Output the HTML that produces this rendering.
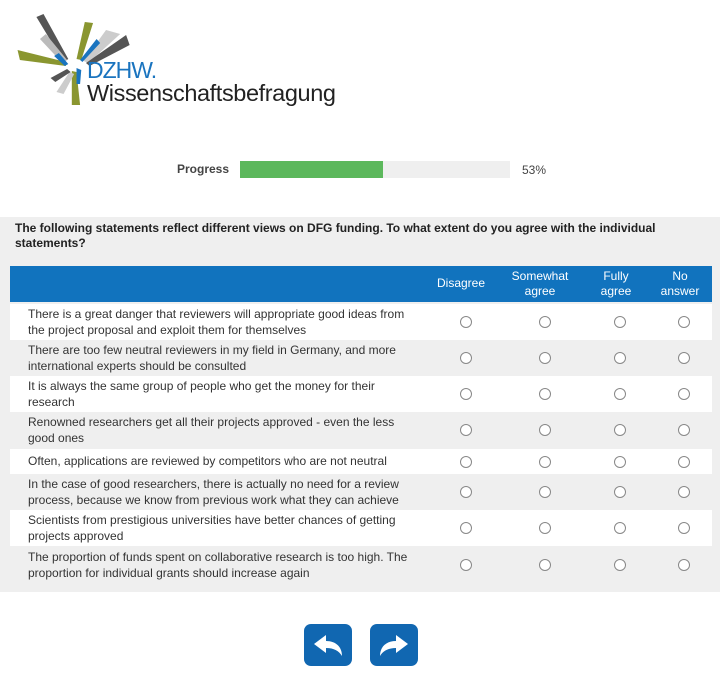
<!DOCTYPE html>
<html><head><style>
body{margin:0;width:722px;height:675px;background:#fff;font-family:"Liberation Sans",Arial,sans-serif;position:relative;overflow:hidden}
.a{position:absolute}
.row{position:absolute;left:10px;width:702px;font-size:12px;color:#333}
.row .t{position:absolute;left:18px;width:390px;line-height:16px}
.r{position:absolute;width:10px;height:10px;border:1px solid #888;border-radius:50%;background:#fff}
.h{position:absolute;color:#fff;font-size:12px;text-align:center;line-height:15px;transform:translateX(-50%)}
.btn{position:absolute;top:624px;width:48px;height:42px;background:#1167b1;border-radius:7px}
</style></head><body>
<svg class="a" style="left:14px;top:12px" width="118" height="96" viewBox="0 0 100 96" preserveAspectRatio="none">
<polygon points="19,5 25,2 46,47 42,50" fill="#555"/>
<polygon points="22,27 27,22 45,48 41,51" fill="#bbb"/>
<polygon points="3,38 5,48 44,54 44,50" fill="#8a9630"/>
<polygon points="34,44 38,41 46,52 43,54" fill="#1a74bf"/>
<polygon points="60,10 67,11 57,48 53,47" fill="#8a9630"/>
<polygon points="78,18 90,22 63,51 59,49" fill="#ccc"/>
<polygon points="95,23 98,33 64,54 61,51" fill="#555"/>
<polygon points="70,27 73,31 58,50 56,48" fill="#1a74bf"/>
<polygon points="49,59 53,60 56,93 49,93" fill="#8a9630"/>
<polygon points="47,60 51,62 42,82 36,80" fill="#ccc"/>
<polygon points="45,57 48,60 35,70 31,66" fill="#555"/>
<polygon points="53,56 57,58 56,72 53,72" fill="#1a74bf"/>
</svg>
<div class="a" style="left:87px;top:57px;font-size:23px;color:#1a74bf;letter-spacing:-1px">DZHW.</div>
<div class="a" style="left:87px;top:80px;font-size:23.5px;color:#222;letter-spacing:-0.4px">Wissenschaftsbefragung</div>

<div class="a" style="left:177px;top:162px;font-size:12px;color:#444;font-weight:bold">Progress</div>
<div class="a" style="left:240px;top:161px;width:270px;height:17px;background:#efefef"></div>
<div class="a" style="left:240px;top:161px;width:143px;height:17px;background:#5cb85c"></div>
<div class="a" style="left:522px;top:163px;font-size:12px;color:#444">53%</div>

<div class="a" style="left:0;top:217px;width:720px;height:375px;background:#efefef"></div>
<div class="a" style="left:15px;top:221px;width:680px;font-size:12px;font-weight:bold;color:#222;line-height:15px">The following statements reflect different views on DFG funding. To what extent do you agree with the individual statements?</div>
<div class="a" style="left:10px;top:266px;width:702px;height:36px;background:#1173be"></div>
<div class="h" style="left:461px;top:276px">Disagree</div>
<div class="h" style="left:540px;top:269px">Somewhat<br>agree</div>
<div class="h" style="left:616px;top:269px">Fully<br>agree</div>
<div class="h" style="left:680px;top:269px">No<br>answer</div>

<div id="rows"></div>
<script>
var R=[[304,36,"There is a great danger that reviewers will appropriate good ideas from the project proposal and exploit them for themselves"],
[340,36,"There are too few neutral reviewers in my field in Germany, and more international experts should be consulted"],
[376,36,"It is always the same group of people who get the money for their research"],
[412,36,"Renowned researchers get all their projects approved - even the less good ones"],
[449,25,"Often, applications are reviewed by competitors who are not neutral"],
[474,36,"In the case of good researchers, there is actually no need for a review process, because we know from previous work what they can achieve"],
[510,36,"Scientists from prestigious universities have better chances of getting projects approved"],
[547,36,"The proportion of funds spent on collaborative research is too high. The proportion for individual grants should increase again"]];
var h="";R.forEach(function(r,i){var bg=i%2?"#efefef":"#fff";var ty=r[1]>30?2:4;
h+='<div class="row" style="top:'+r[0]+'px;height:'+r[1]+'px;background:'+bg+'"><div class="t" style="top:'+ty+'px">'+r[2]+'</div>';
[460,539,614,678].forEach(function(x){h+='<div class="r" style="left:'+(x-10)+'px;top:'+(r[1]/2-6)+'px"></div>'});h+='</div>'});
document.getElementById("rows").innerHTML=h;
</script>

<div class="btn" style="left:304px"><svg width="48" height="42" viewBox="0 0 48 42"><path d="M10,20 L22,11 L22,17 C32,17 38,23 38,32 C35,27 30,24 22,24 L22,29 Z" fill="#fff"/></svg></div>
<div class="btn" style="left:370px"><svg width="48" height="42" viewBox="0 0 48 42"><path d="M38,20 L26,11 L26,17 C16,17 10,23 10,32 C13,27 18,24 26,24 L26,29 Z" fill="#fff"/></svg></div>
</body></html>
